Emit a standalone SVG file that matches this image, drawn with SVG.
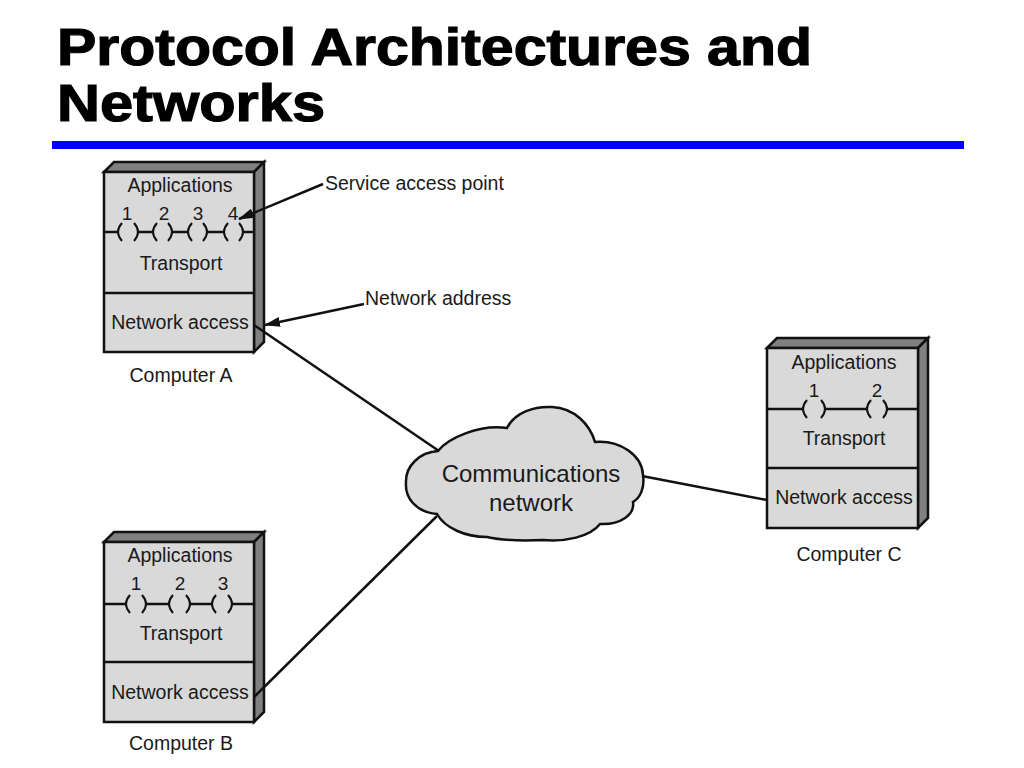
<svg xmlns="http://www.w3.org/2000/svg" width="1024" height="768" viewBox="0 0 1024 768">
<defs>
<style>
.front{fill:#d9d9d9;stroke:#111;stroke-width:2.5;stroke-linejoin:miter}
.dark{fill:#808080;stroke:#111;stroke-width:2.5;stroke-linejoin:miter}
.ln{fill:none;stroke:#111;stroke-width:2.5}
.par{fill:none;stroke:#111;stroke-width:2}
.t{font-family:"Liberation Sans",Arial,sans-serif;font-size:19.5px;fill:#1a1a1a;text-anchor:middle}
.num{font-family:"Liberation Sans",Arial,sans-serif;font-size:19px;fill:#1a1a1a;text-anchor:middle}
.lbl{font-family:"Liberation Sans",Arial,sans-serif;font-size:19.5px;fill:#1a1a1a}
.title{font-family:"Liberation Sans",Arial,sans-serif;font-size:51px;font-weight:bold;fill:#000;stroke:#000;stroke-width:1.2}
.conn{fill:none;stroke:#111;stroke-width:2.5}
</style>
<marker id="arr" viewBox="0 0 16 10" refX="15" refY="5" markerWidth="16" markerHeight="10" markerUnits="userSpaceOnUse" orient="auto">
<path d="M0,0 L16,5 L0,10 Z" fill="#111"/>
</marker>
</defs>
<rect width="1024" height="768" fill="#fff"/>
<g id="title">
<text class="title" x="57" y="65" textLength="755" lengthAdjust="spacingAndGlyphs">Protocol Architectures and</text>
<text class="title" x="57" y="121" textLength="268" lengthAdjust="spacingAndGlyphs">Networks</text>
<rect x="52" y="141" width="912" height="8" fill="#0000ff"/>
</g>
<g id="computerA">
<polygon class="dark" points="104,172 114,162 264,162 254,172"/>
<polygon class="dark" points="254,172 264,162 264,342 254,352"/>
<rect class="front" x="104" y="172" width="150" height="180"/>
<line class="ln" x1="104" y1="293" x2="254" y2="293"/>
<path class="ln" d="M104,232 H118 M138,232 H153 M172,232 H188 M207,232 H224 M243,232 H254"/>
<path class="par" d="M122,223 Q114,232 122,241 M134,223 Q142,232 134,241"/>
<path class="par" d="M157,223 Q149,232 157,241 M168,223 Q176,232 168,241"/>
<path class="par" d="M192,223 Q184,232 192,241 M203,223 Q211,232 203,241"/>
<path class="par" d="M228,223 Q220,232 228,241 M239,223 Q247,232 239,241"/>
<text class="t" x="180" y="192">Applications</text>
<text class="num" x="127" y="220">1</text>
<text class="num" x="164" y="220">2</text>
<text class="num" x="198" y="220">3</text>
<text class="num" x="233" y="220">4</text>
<text class="t" x="181" y="270">Transport</text>
<text class="t" x="180" y="329">Network access</text>
<text class="t" x="181" y="382">Computer A</text>
</g>
<g id="computerB">
<polygon class="dark" points="104,542 114,532 264,532 254,542"/>
<polygon class="dark" points="254,542 264,532 264,712 254,722"/>
<rect class="front" x="104" y="542" width="150" height="180"/>
<line class="ln" x1="104" y1="662" x2="254" y2="662"/>
<path class="ln" d="M104,604 H126 M146,604 H169 M190,604 H212 M232,604 H254"/>
<path class="par" d="M130,595 Q122,604 130,613 M142,595 Q150,604 142,613"/>
<path class="par" d="M173,595 Q165,604 173,613 M186,595 Q194,604 186,613"/>
<path class="par" d="M216,595 Q208,604 216,613 M228,595 Q236,604 228,613"/>
<text class="t" x="180" y="562">Applications</text>
<text class="num" x="136" y="590">1</text>
<text class="num" x="180" y="590">2</text>
<text class="num" x="223" y="590">3</text>
<text class="t" x="181" y="640">Transport</text>
<text class="t" x="180" y="699">Network access</text>
<text class="t" x="181" y="750">Computer B</text>
</g>
<g id="computerC">
<polygon class="dark" points="767,348 777,338 928,338 918,348"/>
<polygon class="dark" points="918,348 928,338 928,518 918,528"/>
<rect class="front" x="767" y="348" width="151" height="180"/>
<line class="ln" x1="767" y1="468" x2="918" y2="468"/>
<path class="ln" d="M767,409 H803 M825,409 H867 M887,409 H918"/>
<path class="par" d="M807,400 Q799,409 807,418 M821,400 Q829,409 821,418"/>
<path class="par" d="M871,400 Q863,409 871,418 M883,400 Q891,409 883,418"/>
<text class="t" x="844" y="369">Applications</text>
<text class="num" x="814" y="397">1</text>
<text class="num" x="877" y="397">2</text>
<text class="t" x="844" y="445">Transport</text>
<text class="t" x="844" y="504">Network access</text>
<text class="t" x="849" y="561">Computer C</text>
</g>
<g id="cloud">
<path d="M438,451 C448,438 480,424 507,428 C515,412 535,406 552,407 C575,408 590,425 595,442 C620,440 642,455 643,475 C645,488 640,498 633,502 C635,515 620,525 600,524 C590,537 565,542 543,540 C520,541 500,540 487,537 C465,537 445,528 437,514 C415,512 405,497 406,483 C405,466 420,452 438,451 Z" fill="#d9d9d9" stroke="#111" stroke-width="2.5"/>
<text class="t" x="531" y="482" style="font-size:24px">Communications</text>
<text class="t" x="531" y="511" style="font-size:24px">network</text>
</g>
<g id="connectors">
<line class="conn" x1="254" y1="325" x2="439" y2="451"/>
<line class="conn" x1="254" y1="697" x2="437" y2="516"/>
<line class="conn" x1="642" y1="476" x2="767" y2="500"/>
<line class="conn" x1="323" y1="184" x2="239" y2="219" marker-end="url(#arr)"/>
<line class="conn" x1="364" y1="304" x2="265" y2="325" marker-end="url(#arr)"/>
</g>
<g id="labels">
<text class="lbl" x="325" y="190">Service access point</text>
<text class="lbl" x="365" y="305">Network address</text>
</g>
</svg>
